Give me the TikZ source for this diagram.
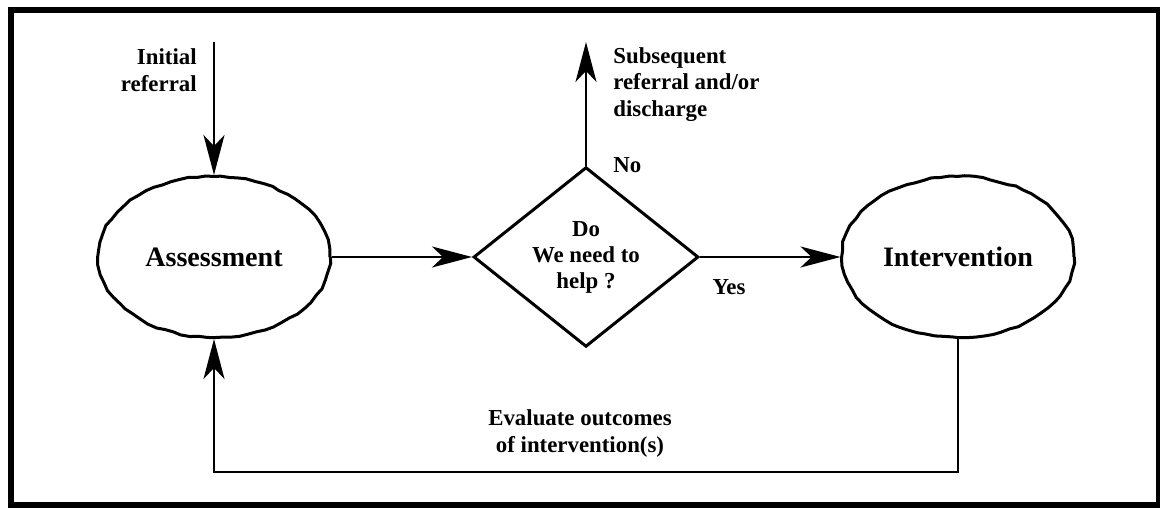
\documentclass[tikz,border=0pt]{standalone}
\usepackage{fontspec}
\setmainfont{Liberation Serif}
\usetikzlibrary{arrows.meta,shapes.geometric,decorations.pathmorphing}

\begin{document}
\begin{tikzpicture}[
  blob/.style={ellipse,draw=cline,line width=0.06cm,inner sep=0pt,
    minimum width=4.64cm,minimum height=3.22cm,
    font=\fontsize{16}{19}\selectfont\bfseries,
    decorate,decoration={random steps,segment length=5pt,amplitude=0.5pt}},
  choice/.style={diamond,draw=cline,line width=0.06cm,inner sep=0pt,
    minimum width=4.5cm,minimum height=3.2cm,align=center,
    font=\fontsize{13}{14.8}\selectfont\bfseries},
  note/.style={align=left,inner sep=0pt,font=\fontsize{13}{15.3}\selectfont\bfseries},
  flow/.style={draw=cline,line width=0.04cm,
    -{Stealth[length=0.8cm,width=0.42cm,inset=0.22cm]}},
  link/.style={draw=cline,line width=0.04cm}
]
%
\useasboundingbox (0,0) rectangle (23.2cm,10.16cm);
%
\definecolor{cline}{rgb}{0.0,0.0,0.0}
\definecolor{cframe}{rgb}{0.0,0.0,0.0}
%
\draw[cframe,line width=0.12cm] (0.22,0.06) rectangle (23.17,9.96);
%
\node[blob] (assess) at (4.28,5.02) {Assessment};
\node[choice] (help) at (11.72,5.02) {Do\\We need to\\help ?};
\node[blob] (interv) at (19.16,5.02) {Intervention};
%
\coordinate (start) at (4.28,9.32);
\coordinate (leave) at (11.72,9.32);
\coordinate (downr) at (19.16,0.72);
\coordinate (downl) at (4.28,0.72);
%
\node[note,align=right,anchor=east] (initlab) at (3.94,8.76) {Initial\\referral};
\node[note,anchor=west] (sublab) at (12.26,8.47) {Subsequent\\referral and/or\\discharge};
\node[note,anchor=west] (nolab) at (12.26,6.86) {No};
\node[note] (yeslab) at (14.58,4.42) {Yes};
\node[note,align=center] (evallab) at (11.6,1.49) {Evaluate outcomes\\of intervention(s)};
%
\draw[flow] (start) -- (assess.north);
\draw[flow] (assess.east) -- (help.west);
\draw[flow] (help.north) -- (leave);
\draw[flow] (help.east) -- (interv.west);
\draw[flow] (interv.south) -- (downr) -- (downl) -- (assess.south);
%
\end{tikzpicture}
\end{document}
